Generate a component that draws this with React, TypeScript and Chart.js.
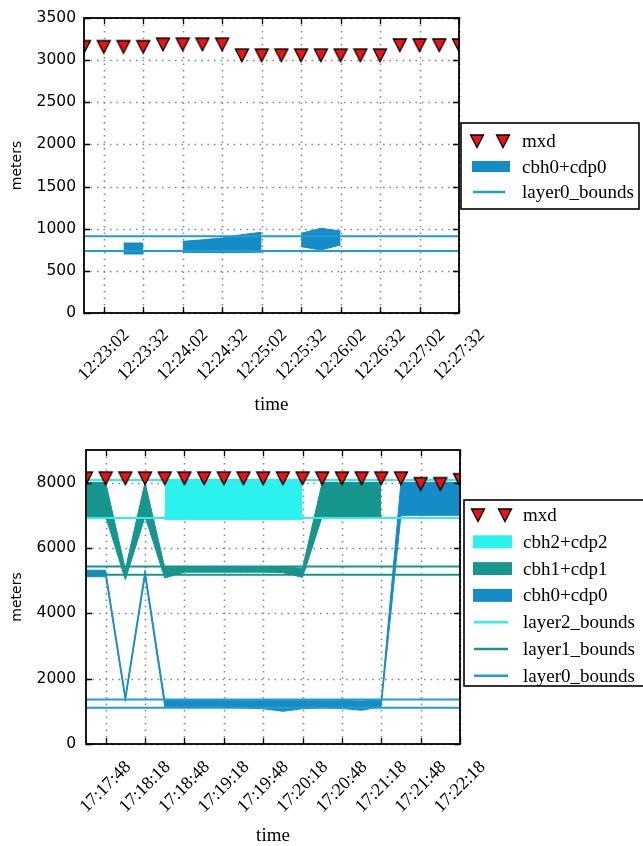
import React, { useEffect, useRef } from 'react';
import { Chart, registerables } from 'chart.js';
Chart.register(...registerables);

// ---------------- TOP PANEL DATA ----------------
const topTimes = ['12:22:47', '12:23:02', '12:23:17', '12:23:32', '12:23:47', '12:24:02', '12:24:17', '12:24:32', '12:24:47', '12:25:02',
  '12:25:17', '12:25:32', '12:25:47', '12:26:02', '12:26:17', '12:26:32', '12:26:47', '12:27:02', '12:27:17', '12:27:32'];
const topTickLabels = ['12:23:02', '12:23:32', '12:24:02', '12:24:32', '12:25:02', '12:25:32', '12:26:02', '12:26:32', '12:27:02', '12:27:32'];
const topYTicks = [0, 500, 1000, 1500, 2000, 2500, 3000, 3500];
const topMxd = [3160, 3160, 3160, 3160, 3190, 3190, 3190, 3190, 3060, 3060, 3060, 3060, 3060, 3060, 3060, 3060, 3180, 3180, 3180, 3180];
const topCbh0Base = [null, null, 700, 700, null, 720, 718, 716, 718, 722, null, 787, 747, 807, null, null, null, null, null, null];
const topCbh0Top = [null, null, 830, 830, null, 850, 868, 890, 930, 958, null, 945, 1005, 973, null, null, null, null, null, null];
const topLayer0Bounds = [737, 910];

// ---------------- BOTTOM PANEL DATA ----------------
const bottomTimes = ['17:17:33', '17:17:48', '17:18:03', '17:18:18', '17:18:33', '17:18:48', '17:19:03', '17:19:18', '17:19:33', '17:19:48',
  '17:20:03', '17:20:18', '17:20:33', '17:20:48', '17:21:03', '17:21:18', '17:21:33', '17:21:48', '17:22:03', '17:22:18'];
const bottomTickLabels = ['17:17:48', '17:18:18', '17:18:48', '17:19:18', '17:19:48', '17:20:18', '17:20:48', '17:21:18', '17:21:48', '17:22:18'];
const bottomYTicks = [0, 2000, 4000, 6000, 8000];
const bottomMxd = [8140, 8140, 8140, 8140, 8140, 8140, 8140, 8140, 8140, 8140, 8140, 8140, 8140, 8140, 8140, 8140, 8140, 7970, 7970, 8090];
const bottomCbh2Base = [null, null, 6900, null, 6870, 6870, 6870, 6870, 6870, 6870, 6870, 6870, null, null, null, null, null, null, null, null];
const bottomCbh2Top = [null, null, 8080, null, 8080, 8080, 8080, 8080, 8080, 8080, 8080, 8080, null, null, null, null, null, null, null, null];
const bottomCbh1Base = [6960, 6960, 5030, 6960, 5080, 5260, 5260, 5260, 5260, 5260, 5250, 5100, 6960, 6960, 6960, 6960, null, null, null, null];
const bottomCbh1Top = [8010, 8010, 5350, 8010, 5400, 5430, 5430, 5430, 5430, 5430, 5430, 5380, 8010, 8010, 8010, 8010, null, null, null, null];
const bottomCbh0Base = [5120, 5120, 1300, 5120, 1130, 1150, 1140, 1130, 1110, 1080, 1000, 1080, 1110, 1090, 1030, 1150, 7000, 7000, 7000, 7000];
const bottomCbh0Top = [5320, 5320, 1480, 5320, 1360, 1345, 1345, 1340, 1340, 1335, 1330, 1335, 1340, 1335, 1320, 1345, 8010, 8010, 8010, 8010];
const bottomLayer2Bounds = [6920, 8080];
const bottomLayer1Bounds = [5180, 5435];
const bottomLayer0Bounds = [1110, 1360];

// ---------------- STYLE ----------------
const CYAN = '#2cf2ee';
const TEAL = '#17968d';
const BLUE = '#168cc6';
const CYAN_LINE = '#30eeee';
const TEAL_LINE = '#1a938b';
const BLUE_LINE = '#1f9ed2';
const SERIF = '"Liberation Serif", "Times New Roman", serif';
const SANS = '"DejaVu Sans", sans-serif';

const toSec = (s: string) => {
  const [h, m, sec] = s.split(':').map(Number);
  return h * 3600 + m * 60 + sec;
};

function makeTriangle(): HTMLCanvasElement {
  const c = document.createElement('canvas');
  c.width = 16;
  c.height = 16;
  const g = c.getContext('2d')!;
  g.beginPath();
  g.moveTo(1.5, 2);
  g.lineTo(14.5, 2);
  g.lineTo(8, 14.5);
  g.closePath();
  g.fillStyle = '#f01212';
  g.fill();
  g.lineWidth = 1.3;
  g.strokeStyle = '#000';
  g.stroke();
  return c;
}

type Layer = { base: (number | null)[]; top: (number | null)[]; color: string };
type Bound = { values: number[]; color: string };
type LegendItem = { kind: 'marker' | 'patch' | 'line'; label: string; color?: string };
type LegendCfg = {
  box: [number, number, number, number];
  rowY0: number; rowStep: number;
  markerX: number[]; patchX: [number, number]; patchH: number; lineX: [number, number]; textX: number;
  items: LegendItem[];
};
type Geom = { top: number; right: number; yAxisW: number; xAxisH: number; yPad: number; xLabelGap: number; titlePadBottom: number };
type PanelCfg = {
  times: string[]; tickLabels: string[]; yTicks: number[]; yMax: number; mxd: number[];
  layers: Layer[]; bounds: Bound[]; legend: LegendCfg; geom: Geom;
};

function splitSegments(xs: number[], lo: (number | null)[], hi: (number | null)[]) {
  const segs: { lo: { x: number; y: number }[]; hi: { x: number; y: number }[] }[] = [];
  let cur: any = null;
  for (let i = 0; i < xs.length; i++) {
    if (lo[i] != null && hi[i] != null) {
      if (!cur) { cur = { lo: [], hi: [] }; segs.push(cur); }
      cur.lo.push({ x: xs[i], y: lo[i] as number });
      cur.hi.push({ x: xs[i], y: hi[i] as number });
    } else cur = null;
  }
  return segs.filter(s => s.lo.length > 1);
}

function buildDatasets(cfg: PanelCfg, tri: HTMLCanvasElement) {
  const xs = cfg.times.map(toSec);
  const x0 = xs[0];
  const x1 = xs[xs.length - 1];
  const ds: any[] = [];
  ds.push({
    label: 'mxd', data: cfg.mxd.map((v, i) => ({ x: xs[i], y: v })), showLine: false,
    pointStyle: tri, pointRadius: 7, pointHoverRadius: 7, borderWidth: 0, clip: 0,
  });
  cfg.bounds.forEach(b => b.values.forEach(v => ds.push({
    data: [{ x: x0, y: v }, { x: x1, y: v }], borderColor: b.color, borderWidth: 2, pointRadius: 0, fill: false,
  })));
  cfg.layers.forEach(l => splitSegments(xs, l.base, l.top).forEach(seg => {
    ds.push({ data: seg.lo, borderColor: l.color, borderWidth: 1, pointRadius: 0, fill: false });
    ds.push({ data: seg.hi, borderColor: l.color, backgroundColor: l.color, borderWidth: 1, pointRadius: 0, fill: '-1' });
  }));
  return ds;
}

function decorPlugin(cfg: PanelCfg, tri: HTMLCanvasElement) {
  return {
    id: 'decor',
    beforeDatasetsDraw(chart: any) {
      const { ctx, chartArea: a, scales } = chart;
      ctx.save();
      ctx.strokeStyle = '#8a8a8a';
      ctx.lineWidth = 1.6;
      ctx.setLineDash([1.6, 4.9]);
      scales.x.ticks.forEach((t: any) => {
        const px = Math.round(scales.x.getPixelForValue(t.value)) + 0.5;
        ctx.beginPath(); ctx.moveTo(px, a.top); ctx.lineTo(px, a.bottom); ctx.stroke();
      });
      scales.y.ticks.forEach((t: any) => {
        const py = Math.round(scales.y.getPixelForValue(t.value)) + 0.5;
        ctx.beginPath(); ctx.moveTo(a.left, py); ctx.lineTo(a.right, py); ctx.stroke();
      });
      ctx.restore();
    },
    afterDatasetsDraw(chart: any) {
      const { ctx, chartArea: a, scales } = chart;
      ctx.save();
      ctx.strokeStyle = '#000';
      ctx.lineWidth = 1.3;
      const tl = 6;
      scales.x.ticks.forEach((t: any) => {
        const px = Math.round(scales.x.getPixelForValue(t.value)) + 0.5;
        ctx.beginPath();
        ctx.moveTo(px, a.bottom); ctx.lineTo(px, a.bottom - tl);
        ctx.moveTo(px, a.top); ctx.lineTo(px, a.top + tl);
        ctx.stroke();
      });
      scales.y.ticks.forEach((t: any) => {
        const py = Math.round(scales.y.getPixelForValue(t.value)) + 0.5;
        ctx.beginPath();
        ctx.moveTo(a.left, py); ctx.lineTo(a.left + tl, py);
        ctx.moveTo(a.right, py); ctx.lineTo(a.right - tl, py);
        ctx.stroke();
      });
      ctx.lineWidth = 1.8;
      ctx.strokeRect(a.left, a.top, a.right - a.left, a.bottom - a.top);
      ctx.restore();
    },
    afterDraw(chart: any) {
      const { ctx, chartArea: a, scales } = chart;
      // x tick labels, rotated 45 deg, box centred on tick (matplotlib style)
      ctx.save();
      const fs = 18;
      ctx.font = `${fs}px ${SERIF}`;
      ctx.fillStyle = '#000';
      scales.x.ticks.forEach((t: any, i: number) => {
        const label = cfg.tickLabels[i];
        if (!label) return;
        const w = ctx.measureText(label).width;
        const px = scales.x.getPixelForValue(t.value);
        const ax = px + 0.354 * w;
        const ay = a.bottom + cfg.geom.xLabelGap + 0.354 * fs;
        ctx.save();
        ctx.translate(ax, ay);
        ctx.rotate(-Math.PI / 4);
        ctx.textAlign = 'right';
        ctx.textBaseline = 'middle';
        ctx.fillText(label, 0, 0);
        ctx.restore();
      });
      ctx.restore();

      // legend
      const L = cfg.legend;
      ctx.save();
      const [bx0, by0, bx1, by1] = L.box;
      ctx.fillStyle = '#fff';
      ctx.fillRect(bx0, by0, bx1 - bx0, by1 - by0);
      ctx.strokeStyle = '#000';
      ctx.lineWidth = 1.6;
      ctx.strokeRect(bx0, by0, bx1 - bx0, by1 - by0);
      L.items.forEach((it, i) => {
        const y = L.rowY0 + i * L.rowStep;
        if (it.kind === 'marker') {
          L.markerX.forEach(mx => ctx.drawImage(tri, mx - tri.width / 2, y - tri.height / 2));
        } else if (it.kind === 'patch') {
          ctx.fillStyle = it.color!;
          ctx.fillRect(L.patchX[0], y - L.patchH / 2, L.patchX[1] - L.patchX[0], L.patchH);
        } else {
          ctx.strokeStyle = it.color!;
          ctx.lineWidth = 2.5;
          ctx.beginPath(); ctx.moveTo(L.lineX[0], y); ctx.lineTo(L.lineX[1], y); ctx.stroke();
        }
        ctx.fillStyle = '#000';
        ctx.font = `19px ${SERIF}`;
        ctx.textAlign = 'left';
        ctx.textBaseline = 'alphabetic';
        ctx.fillText(it.label, L.textX, y + 6);
      });
      ctx.restore();
    },
  };
}

const topCfg: PanelCfg = {
  times: topTimes, tickLabels: topTickLabels, yTicks: topYTicks, yMax: 3500, mxd: topMxd,
  layers: [{ base: topCbh0Base, top: topCbh0Top, color: BLUE }],
  bounds: [{ values: topLayer0Bounds, color: BLUE_LINE }],
  legend: {
    box: [461, 123, 639, 209], rowY0: 141, rowStep: 25.5,
    markerX: [477, 503], patchX: [472, 510], patchH: 11, lineX: [473, 505], textX: 522,
    items: [
      { kind: 'marker', label: 'mxd' },
      { kind: 'patch', label: 'cbh0+cdp0', color: BLUE },
      { kind: 'line', label: 'layer0_bounds', color: BLUE_LINE },
    ],
  },
  geom: { top: 18, right: 184, yAxisW: 84, xAxisH: 110, yPad: 8, xLabelGap: 13, titlePadBottom: 8.5 },
};

const bottomCfg: PanelCfg = {
  times: bottomTimes, tickLabels: bottomTickLabels, yTicks: bottomYTicks, yMax: 9000, mxd: bottomMxd,
  layers: [
    { base: bottomCbh2Base, top: bottomCbh2Top, color: CYAN },
    { base: bottomCbh1Base, top: bottomCbh1Top, color: TEAL },
    { base: bottomCbh0Base, top: bottomCbh0Top, color: BLUE },
  ],
  bounds: [
    { values: bottomLayer2Bounds, color: CYAN_LINE },
    { values: bottomLayer1Bounds, color: TEAL_LINE },
    { values: bottomLayer0Bounds, color: BLUE_LINE },
  ],
  legend: {
    box: [464, 77, 660, 263], rowY0: 92, rowStep: 26.8,
    markerX: [478, 505], patchX: [473, 512], patchH: 13, lineX: [474, 508], textX: 523,
    items: [
      { kind: 'marker', label: 'mxd' },
      { kind: 'patch', label: 'cbh2+cdp2', color: CYAN },
      { kind: 'patch', label: 'cbh1+cdp1', color: TEAL },
      { kind: 'patch', label: 'cbh0+cdp0', color: BLUE },
      { kind: 'line', label: 'layer2_bounds', color: CYAN_LINE },
      { kind: 'line', label: 'layer1_bounds', color: TEAL_LINE },
      { kind: 'line', label: 'layer0_bounds', color: BLUE_LINE },
    ],
  },
  geom: { top: 27, right: 183, yAxisW: 86, xAxisH: 102, yPad: 10, xLabelGap: 14, titlePadBottom: 0 },
};

function Panel({ cfg, top }: { cfg: PanelCfg; top: number }) {
  const ref = useRef<HTMLCanvasElement>(null);
  useEffect(() => {
    let chart: Chart | null = null;
    let cancelled = false;
    const create = () => {
      if (cancelled || !ref.current) return;
      const tri = makeTriangle();
      const xs = cfg.times.map(toSec);
      const tickVals = cfg.tickLabels.map(toSec);
      const g = cfg.geom;
      chart = new Chart(ref.current, {
        type: 'line',
        data: { datasets: buildDatasets(cfg, tri) },
        options: {
          animation: false,
          responsive: false,
          events: [],
          layout: { padding: { left: 0, top: g.top, right: g.right, bottom: 0 } },
          plugins: { legend: { display: false }, tooltip: { enabled: false } },
          scales: {
            x: {
              type: 'linear', min: xs[0], max: xs[xs.length - 1],
              afterBuildTicks: (s: any) => { s.ticks = tickVals.map(v => ({ value: v })); },
              afterFit: (s: any) => { s.height = g.xAxisH; },
              grid: { display: false, drawTicks: false }, border: { display: false },
              ticks: { display: false },
              title: {
                display: true, text: 'time', color: '#000',
                font: { family: SERIF, size: 19, lineHeight: 1 },
                padding: { top: 0, bottom: g.titlePadBottom },
              },
            },
            y: {
              type: 'linear', min: 0, max: cfg.yMax,
              afterBuildTicks: (s: any) => { s.ticks = cfg.yTicks.map(v => ({ value: v })); },
              afterFit: (s: any) => { s.width = g.yAxisW; },
              grid: { display: false, drawTicks: false }, border: { display: false },
              ticks: { color: '#000', font: { family: SANS, size: 15.5 }, padding: g.yPad, callback: (v: any) => String(v) },
              title: {
                display: true, text: 'meters', color: '#000',
                font: { family: SANS, size: 14, lineHeight: 1.2 },
                padding: { top: 9, bottom: 0 },
              },
            },
          },
        } as any,
        plugins: [decorPlugin(cfg, tri)],
      });
    };
    const fonts: any = (document as any).fonts;
    if (fonts && fonts.load) {
      Promise.all([
        fonts.load(`19px "Liberation Serif"`),
        fonts.load(`16px "DejaVu Sans"`),
      ]).then(create, create);
    } else create();
    return () => {
      cancelled = true;
      if (chart) chart.destroy();
    };
  }, [cfg]);
  return (
    <div style={{ position: 'absolute', left: 0, top, width: 643, height: 423 }}>
      <canvas ref={ref} width={643} height={423} style={{ display: 'block' }} />
    </div>
  );
}

export default function App() {
  return (
    <div style={{ position: 'absolute', left: 0, top: 0, width: 643, height: 846, background: '#fff', overflow: 'hidden' }}>
      <Panel cfg={topCfg} top={0} />
      <Panel cfg={bottomCfg} top={423} />
    </div>
  );
}
